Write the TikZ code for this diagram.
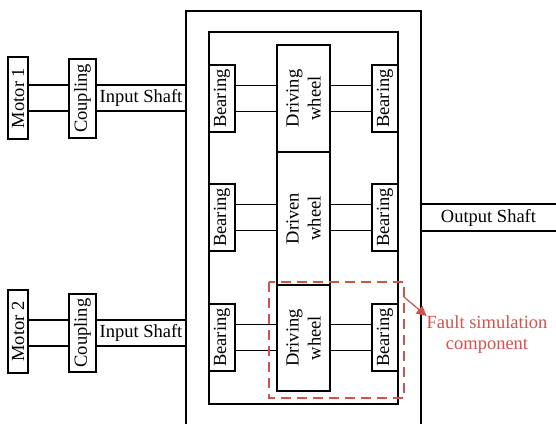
\documentclass[tikz,border=0pt]{standalone}
\usepackage{fontspec}
\setmainfont{Liberation Serif}
\usetikzlibrary{arrows.meta}
\definecolor{faultred}{RGB}{204,84,76}
\begin{document}
\begin{tikzpicture}[x=1pt,y=-1pt,
  line width=1.1pt,
  every node/.style={inner sep=0pt,outer sep=0pt,font=\fontsize{18.5}{22}\selectfont},
  vbox/.style={draw,rotate=90,align=center},
  hbox/.style={draw,align=center},
  fault/.style={draw=faultred,dash pattern=on 10pt off 6pt,line width=1.2pt}]
\useasboundingbox (0,0) rectangle (556,423);
% outer housing
\draw (186,424) -- (186,11) -- (421,11) -- (421,424);
% inner frame
\draw (209,32) rectangle (398,404);
% motors and couplings
\node[vbox,minimum width=82pt,minimum height=20pt] (m1) at (18,98) {Motor 1};
\node[vbox,minimum width=79pt,minimum height=27pt] (c1) at (82.5,98.5) {Coupling};
\node[hbox,minimum width=90pt,minimum height=26pt] (s1) at (141,98) {Input Shaft};
\node[vbox,minimum width=83pt,minimum height=20pt] (m2) at (18,331.5) {Motor 2};
\node[vbox,minimum width=78pt,minimum height=27pt] (c2) at (82.5,333) {Coupling};
\node[hbox,minimum width=90pt,minimum height=26pt] (s2) at (141,333) {Input Shaft};
\draw (m1.south |- s1.north) -- (c1.north |- s1.north);
\draw (m1.south |- s1.south) -- (c1.north |- s1.south);
\draw (m2.south |- s2.north) -- (c2.north |- s2.north);
\draw (m2.south |- s2.south) -- (c2.north |- s2.south);
% wheels
\node[vbox,minimum width=107pt,minimum height=53pt] (w1) at (303.5,98.5) {Driving\\wheel};
\node[vbox,minimum width=133pt,minimum height=53pt] (w2) at (303.5,218.5) {Driven\\wheel};
\node[vbox,minimum width=106pt,minimum height=53pt] (w3) at (303.5,338) {Driving\\wheel};
% bearings
\foreach \n/\y in {1/98.5,2/217.5,3/337.5}{
  \node[vbox,minimum width=67pt,minimum height=26pt] (bl\n) at (222,\y) {Bearing};
  \node[vbox,minimum width=67pt,minimum height=26pt] (br\n) at (385,\y) {Bearing};
}
% shafts (rotated nodes: north = left side, south = right side)
\foreach \n/\w in {1/w1,2/w2,3/w3}{
  \draw ([yshift=-13pt]bl\n.south) -- ([yshift=-13pt]bl\n.south -| \w.north);
  \draw ([yshift=13pt]bl\n.south) -- ([yshift=13pt]bl\n.south -| \w.north);
  \draw ([yshift=-13pt]br\n.north) -- ([yshift=-13pt]br\n.north -| \w.south);
  \draw ([yshift=13pt]br\n.north) -- ([yshift=13pt]br\n.north -| \w.south);
}
% output shaft
\node[minimum width=135pt,minimum height=27pt] (out) at (488.5,217.5) {Output Shaft};
\draw (out.north west) -- (out.north east);
\draw (out.south west) -- (out.south east);
% fault simulation component
\draw[fault] (269,282) rectangle (404,398);
\coordinate (fs) at (404,297);
\node[text=faultred,align=center,anchor=north,font=\fontsize{18.5}{21}\selectfont] (ft) at (487,316) {Fault simulation\\component};
\draw[faultred,line width=1.2pt,-{Triangle[length=10pt,width=10pt]}] (fs) -- (ft.north west);
\end{tikzpicture}
\end{document}
